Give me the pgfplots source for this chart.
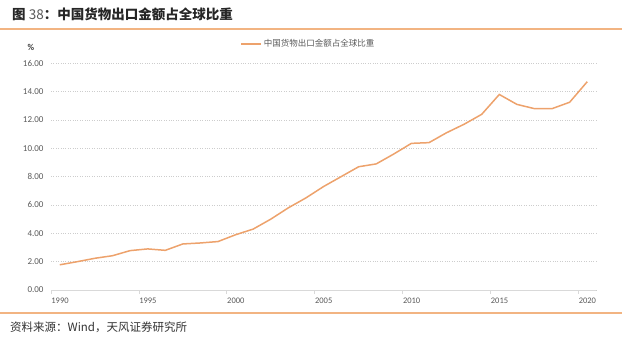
\documentclass[border=0pt]{standalone}
\usepackage{pgfplots}
\pgfplotsset{compat=1.18}
\usepackage{fontspec}
\setmainfont{Noto Sans CJK SC}
\newfontfamily\carlito{Carlito}
\newfontfamily\cjk{Noto Sans CJK SC}
\definecolor{lineor}{RGB}{237,162,108}
\definecolor{sepor}{RGB}{242,180,130}
\definecolor{txtgray}{RGB}{89,89,89}
\definecolor{gridgray}{RGB}{205,205,205}
\definecolor{axgray}{RGB}{217,217,217}
\begin{document}
\begin{tikzpicture}[x=1pt,y=1pt]
\path[use as bounding box] (0,0) rectangle (628,338);
% title
\node[anchor=west,inner sep=0pt,text=black!85] at (12,324) {\fontsize{13.5}{15}\selectfont\cjk\bfseries 图 {\mdseries\color{txtgray}38}：中国货物出口金额占全球比重};
\draw[sepor,line width=1.5pt] (0,309) -- (622,309);
\draw[sepor,line width=1.5pt] (0,25) -- (622,25);
\node[anchor=west,inner sep=0pt,text=black!80] at (10,11) {\fontsize{11.5}{13}\selectfont\cjk 资料来源：Wind，天风证券研究所};
\node[inner sep=0pt,text=black!75] at (31,291) {\fontsize{9}{10}\selectfont\carlito\bfseries \%};
\begin{axis}[
  at={(51pt,48pt)}, anchor=south west,
  scale only axis, width=545pt, height=226.7pt,
  xmin=1989.5, xmax=2020.5, ymin=0, ymax=16,
  axis x line*=bottom, axis y line*=left,
  y axis line style={draw=none},
  x axis line style={axgray, line width=0.8pt, -},
  xtick={1989.5,1994.5,1999.5,2004.5,2009.5,2014.5,2019.5},
  xticklabels={1990,1995,2000,2005,2010,2015,2020},
  xticklabel style={xshift=9pt, font=\fontsize{8.5}{10}\carlito, text=txtgray},
  x tick style={axgray, line width=0.8pt},
  tick align=outside, major tick length=4pt,
  ytick={0,2,...,16},
  y tick style={draw=none},
  yticklabel style={font=\fontsize{9}{10}\carlito, text=txtgray},
  /pgf/number format/.cd, fixed, fixed zerofill, precision=2, assume math mode=true,
  /pgfplots/.cd,
  ymajorgrids, grid style={gridgray, dotted, line width=0.8pt},
  legend style={at={(0.347,1.085)}, anchor=west, draw=none, fill=none,
    font=\fontsize{8.5}{10}\cjk, text=txtgray, inner sep=0pt,
    legend cell align=left},
  legend image code/.code={\draw[#1, line width=1.5pt] (0pt,0pt) -- (20pt,0pt);},
  clip=false,
]
\addplot[lineor, line width=1.5pt] coordinates {
(1990,1.78) (1991,2.0) (1992,2.24) (1993,2.42) (1994,2.78) (1995,2.9)
(1996,2.8) (1997,3.25) (1998,3.32) (1999,3.42) (2000,3.9) (2001,4.3)
(2002,5.0) (2003,5.8) (2004,6.5) (2005,7.3) (2006,8.0) (2007,8.7)
(2008,8.9) (2009,9.6) (2010,10.35) (2011,10.4) (2012,11.1) (2013,11.7)
(2014,12.4) (2015,13.8) (2016,13.1) (2017,12.8) (2018,12.8) (2019,13.25)
(2020,14.7)
};
\addlegendentry{中国货物出口金额占全球比重}
\end{axis}
\end{tikzpicture}
\end{document}
